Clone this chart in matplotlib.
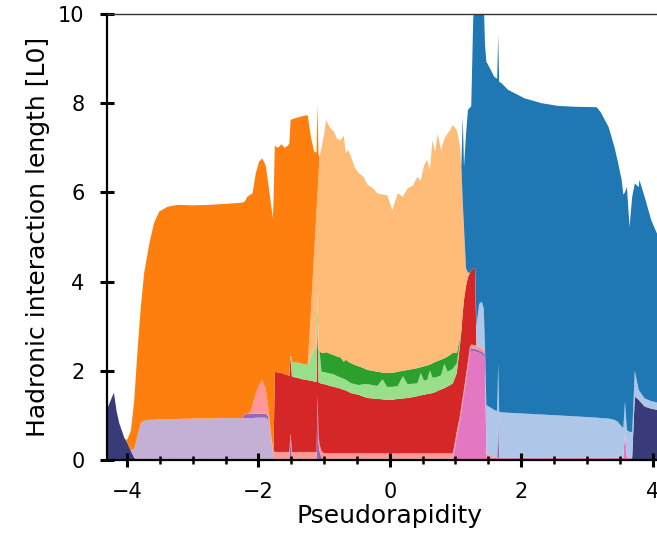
import matplotlib
matplotlib.use("Agg")
import matplotlib.pyplot as plt
from matplotlib.ticker import MultipleLocator

# pseudorapidity grid (segments A..F)
eta = [
    # A (22)
    -4.31, -4.26, -4.20, -4.16, -4.12, -4.04, -4.00, -3.97, -3.94, -3.89, -3.84,
    -3.79, -3.74, -3.66, -3.59, -3.51, -3.38, -3.23, -3.00, -2.75, -2.53, -2.25,
    # B (17)
    -2.21, -2.17, -2.12, -2.09, -2.04, -1.99, -1.94, -1.89, -1.85, -1.81, -1.78,
    -1.77, -1.75, -1.70, -1.65, -1.60, -1.55,
    # C (14)
    -1.53, -1.51, -1.49, -1.40, -1.30, -1.25, -1.20, -1.15, -1.115, -1.10, -1.085,
    -1.07, -1.04, -1.00,
    # D (35)
    -0.97, -0.91, -0.85, -0.80, -0.75, -0.70, -0.67, -0.63, -0.59, -0.53,
    -0.47, -0.40, -0.34, -0.26, -0.19, -0.11, -0.04, 0.04, 0.12, 0.20,
    0.27, 0.35, 0.42, 0.47, 0.52, 0.57, 0.61, 0.65, 0.69, 0.73,
    0.78, 0.83, 0.88, 0.92, 0.96,
    # E (16)
    1.02, 1.07, 1.09, 1.11, 1.13, 1.16, 1.19, 1.22, 1.24, 1.27, 1.30, 1.32, 1.36,
    1.40, 1.43, 1.45,
    # F (30)
    1.47, 1.54, 1.59, 1.635, 1.65, 1.665, 1.70, 1.80, 2.05, 2.31, 2.56, 2.81,
    3.15, 3.21, 3.33, 3.42, 3.47, 3.53, 3.555, 3.58, 3.61, 3.65, 3.69, 3.73,
    3.79, 3.80, 3.88, 3.98, 4.09, 4.31,
]

navy = [
    1.12, 1.30, 1.51, 1.10, 0.83, 0.49, 0.40, 0.30, 0.20, 0.05, 0, 0, 0, 0, 0, 0, 0, 0, 0, 0, 0, 0,
    0, 0, 0, 0, 0, 0, 0, 0, 0, 0, 0, 0, 0, 0, 0, 0, 0,
    0, 0, 0, 0, 0, 0, 0, 0, 0, 0, 0, 0, 0, 0,
    0, 0, 0, 0, 0, 0, 0, 0, 0, 0,
    0, 0, 0, 0, 0, 0, 0, 0, 0, 0,
    0, 0, 0, 0, 0, 0, 0, 0, 0, 0,
    0, 0, 0, 0, 0,
    0, 0, 0, 0, 0, 0, 0, 0, 0, 0, 0, 0, 0, 0, 0, 0,
    0, 0, 0, 0, 0, 0, 0, 0, 0, 0, 0, 0, 0, 0, 0, 0, 0, 0, 0, 0, 0, 0,
    0.05, 1.42, 1.35, 1.33, 1.20, 1.15, 1.12, 1.10,
]
light_purple = [
    0, 0, 0, 0, 0, 0, 0, 0, 0.02, 0.20, 0.55, 0.83, 0.88, 0.90, 0.90, 0.91, 0.92, 0.92, 0.93, 0.93, 0.94, 0.94,
    0.94, 0.94, 0.94, 0.94, 0.95, 0.95, 0.95, 0.95, 0.90, 0.45, 0.15, 0.08, 0, 0, 0, 0, 0,
    0, 0, 0, 0, 0, 0, 0, 0, 0, 0, 0, 0, 0, 0,
    0, 0, 0, 0, 0, 0, 0, 0, 0, 0,
    0, 0, 0, 0, 0, 0, 0, 0, 0, 0,
    0, 0, 0, 0, 0, 0, 0, 0, 0, 0,
    0, 0, 0, 0, 0,
    0, 0, 0, 0, 0, 0, 0, 0, 0, 0, 0, 0, 0, 0, 0, 0,
    0, 0, 0, 0, 0, 0, 0, 0, 0, 0, 0, 0, 0, 0, 0, 0, 0, 0, 0, 0, 0, 0, 0, 0, 0, 0, 0, 0, 0, 0,
]
pink = [
    0, 0, 0, 0, 0, 0, 0, 0, 0, 0, 0, 0, 0, 0, 0, 0, 0, 0, 0, 0, 0, 0,
    0, 0, 0, 0, 0, 0, 0, 0, 0, 0, 0, 0, 0, 0, 0, 0, 0,
    0, 0, 0, 0, 0, 0, 0, 0, 0, 0, 0, 0, 0, 0,
    0, 0, 0, 0, 0, 0, 0, 0, 0, 0,
    0, 0, 0, 0, 0, 0, 0, 0, 0, 0,
    0, 0, 0, 0, 0, 0, 0, 0, 0, 0,
    0, 0, 0, 0, 0,
    0.49, 0.88, 1.08, 1.27, 1.47, 1.76, 2.05, 2.40, 2.45, 2.44, 2.43, 2.42, 2.40, 2.37, 2.34, 2.30,
    0.05, 0.05, 0.05, 0.05, 0.05, 0.05, 0.05, 0.05, 0.05, 0.05, 0.05, 0.05, 0.05, 0.05, 0.05,
    0.05, 0.05, 0.05, 0.05, 0.60, 0.05, 0.05, 0, 0, 0, 0, 0, 0, 0, 0,
]
purple = [
    0, 0, 0, 0, 0, 0, 0, 0, 0, 0, 0, 0, 0, 0, 0, 0, 0, 0, 0, 0, 0, 0,
    0.08, 0.09, 0.09, 0.09, 0.09, 0.09, 0.09, 0.09, 0.08, 0.05, 0.03, 0.02, 0.03, 0.03, 0.03, 0.03, 0.03,
    0.03, 0.45, 0.03, 0.03, 0.03, 0.03, 0.03, 0.03, 0.03, 1.30, 0.40, 0.20, 0.05, 0.03,
    0.03, 0.03, 0.03, 0.03, 0.03, 0.03, 0.03, 0.03, 0.03, 0.03,
    0.03, 0.03, 0.03, 0.03, 0.03, 0.03, 0.03, 0.03, 0.03, 0.03,
    0.03, 0.03, 0.03, 0.03, 0.03, 0.03, 0.03, 0.03, 0.03, 0.03,
    0.03, 0.03, 0.03, 0.03, 0.03,
    0.03, 0.03, 0.03, 0.03, 0.03, 0.04, 0.05, 0.06, 0.06, 0.06, 0.06, 0.06, 0.06, 0.06, 0.06, 0.06,
    0.02, 0.01, 0, 0, 1.00, 0, 0, 0, 0, 0, 0, 0, 0, 0, 0, 0, 0, 0, 0, 0, 0, 0, 0, 0, 0, 0, 0, 0, 0, 0,
]
light_red = [
    0, 0, 0, 0, 0, 0, 0, 0, 0, 0, 0, 0, 0, 0, 0, 0, 0, 0, 0, 0, 0, 0,
    0, 0, 0.05, 0.20, 0.45, 0.65, 0.75, 0.55, 0.20, 0.10, 0.10, 0.12, 0.15, 0.15, 0.15, 0.15, 0.15,
    0.15, 0.15, 0.15, 0.15, 0.15, 0.15, 0.15, 0.15, 0.15, 0.15, 0.15, 0.15, 0.15, 0.12,
    0.12, 0.12, 0.12, 0.12, 0.12, 0.12, 0.12, 0.12, 0.12, 0.12,
    0.12, 0.12, 0.12, 0.12, 0.12, 0.12, 0.12, 0.12, 0.12, 0.12,
    0.12, 0.12, 0.12, 0.12, 0.12, 0.12, 0.12, 0.12, 0.12, 0.12,
    0.12, 0.12, 0.12, 0.12, 0.12,
    0.12, 0.10, 0.10, 0.10, 0.10, 0.10, 0.10, 0.08, 0.08, 0.08, 0.08, 0.08, 0.08, 0.08, 0.08, 0.08,
    0.08, 0.04, 0.03, 0, 0, 0, 0, 0, 0, 0, 0, 0, 0, 0, 0, 0, 0, 0, 0, 0, 0, 0, 0, 0, 0, 0, 0, 0, 0, 0,
]
red = [
    0, 0, 0, 0, 0, 0, 0, 0, 0, 0, 0, 0, 0, 0, 0, 0, 0, 0, 0, 0, 0, 0,
    0, 0, 0, 0, 0, 0, 0, 0, 0, 0, 0, 0, 1.80, 1.78, 1.77, 1.74, 1.72,
    1.70, 1.72, 1.69, 1.66, 1.62, 1.61, 1.60, 1.58, 1.57, 1.65, 1.19, 1.38, 1.51, 1.55,
    1.54, 1.51, 1.49, 1.47, 1.45, 1.42, 1.41, 1.38, 1.35, 1.33,
    1.31, 1.27, 1.24, 1.23, 1.22, 1.21, 1.20, 1.20, 1.22, 1.23,
    1.24, 1.26, 1.28, 1.30, 1.31, 1.33, 1.34, 1.35, 1.37, 1.40,
    1.43, 1.46, 1.50, 1.53, 1.57,
    1.31, 1.59, 1.69, 1.90, 2.00, 2.00, 1.90, 1.66, 1.66, 1.72, 1.73, 0, 0, 0, 0, 0,
    0, 0, 0, 0, 0, 0, 0, 0, 0, 0, 0, 0, 0, 0, 0, 0, 0, 0, 0, 0, 0, 0, 0, 0, 0, 0, 0, 0, 0, 0,
]
light_green = [
    0, 0, 0, 0, 0, 0, 0, 0, 0, 0, 0, 0, 0, 0, 0, 0, 0, 0, 0, 0, 0, 0,
    0, 0, 0, 0, 0, 0, 0, 0, 0, 0, 0, 0, 0, 0, 0, 0, 0,
    0, 0.08, 0.33, 0.34, 0.35, 0.34, 0.54, 0.74, 0.80, 0.67, 0.76, 0.72, 0.27, 0.27,
    0.27, 0.28, 0.28, 0.26, 0.25, 0.25, 0.24, 0.23, 0.22, 0.22,
    0.22, 0.28, 0.31, 0.30, 0.29, 0.45, 0.29, 0.29, 0.29, 0.50,
    0.31, 0.30, 0.29, 0.50, 0.32, 0.32, 0.52, 0.35, 0.33, 0.32,
    0.32, 0.55, 0.33, 0.33, 0.33,
    0.22, 0.10, 0, 0, 0, 0, 0, 0, 0, 0, 0, 0, 0, 0, 0, 0,
    0, 0, 0, 0, 0, 0, 0, 0, 0, 0, 0, 0, 0, 0, 0, 0, 0, 0, 0, 0, 0, 0, 0, 0, 0, 0, 0, 0, 0, 0,
]
green = [
    0, 0, 0, 0, 0, 0, 0, 0, 0, 0, 0, 0, 0, 0, 0, 0, 0, 0, 0, 0, 0, 0,
    0, 0, 0, 0, 0, 0, 0, 0, 0, 0, 0, 0, 0, 0, 0, 0, 0,
    0, 0, 0, 0, 0, 0, 0, 0, 0, 0, 0, 0, 0.42, 0.43,
    0.46, 0.44, 0.43, 0.44, 0.45, 0.38, 0.45, 0.44, 0.45, 0.43,
    0.42, 0.36, 0.32, 0.32, 0.32, 0.15, 0.31, 0.31, 0.32, 0.12,
    0.32, 0.33, 0.34, 0.13, 0.32, 0.32, 0.13, 0.32, 0.35, 0.35,
    0.35, 0.12, 0.34, 0.35, 0.35,
    0.23, 0.05, 0, 0, 0, 0, 0, 0, 0, 0, 0, 0, 0, 0, 0, 0,
    0, 0, 0, 0, 0, 0, 0, 0, 0, 0, 0, 0, 0, 0, 0, 0, 0, 0, 0, 0, 0, 0, 0, 0, 0, 0, 0, 0, 0, 0,
]
light_orange = [
    0, 0, 0, 0, 0, 0, 0, 0, 0, 0, 0, 0, 0, 0, 0, 0, 0, 0, 0, 0, 0, 0,
    0, 0, 0, 0, 0, 0, 0, 0, 0, 0, 0, 0, 0, 0, 0, 0, 0,
    0, 0, 0, 0, 0, 0, 1.04, 2.20, 3.05, 2.23, 3.90, 4.35, 4.60, 4.90,
    5.20, 5.07, 5.01, 4.88, 4.87, 5.07, 4.63, 4.75, 4.63, 4.42,
    4.33, 4.29, 4.15, 4.10, 4.00, 3.99, 3.99, 3.65, 4.00, 3.90,
    4.07, 4.11, 4.29, 4.17, 4.50, 4.61, 4.36, 5.00, 4.70, 5.10,
    4.70, 4.92, 5.00, 5.04, 5.11,
    5.00, 4.27, 3.68, 2.50, 1.60, 0.40, 0.10, 0, 0, 0, 0, 0, 0, 0, 0, 0,
    0, 0, 0, 0, 0, 0, 0, 0, 0, 0, 0, 0, 0, 0, 0, 0, 0, 0, 0, 0, 0, 0, 0, 0, 0, 0, 0, 0, 0, 0,
]
orange = [
    0, 0, 0, 0, 0, 0, 0.05, 0.25, 0.45, 1.10, 1.92, 2.61, 3.31, 3.96, 4.41, 4.66, 4.76, 4.80, 4.78, 4.79, 4.80, 4.83,
    4.77, 4.87, 4.87, 4.75, 4.94, 5.00, 4.97, 5.02, 5.02, 5.15, 5.14, 5.58, 5.06, 5.04, 5.13, 5.08, 5.15,
    5.22, 5.22, 5.44, 5.50, 5.57, 5.60, 3.88, 2.20, 1.30, 1.98, 0.45, 0, 0, 0,
    0, 0, 0, 0, 0, 0, 0, 0, 0, 0,
    0, 0, 0, 0, 0, 0, 0, 0, 0, 0,
    0, 0, 0, 0, 0, 0, 0, 0, 0, 0,
    0, 0, 0, 0, 0,
    0, 0, 0, 0, 0, 0, 0, 0, 0, 0, 0, 0, 0, 0, 0, 0,
    0, 0, 0, 0, 0, 0, 0, 0, 0, 0, 0, 0, 0, 0, 0, 0, 0, 0, 0, 0, 0, 0, 0, 0, 0, 0, 0, 0, 0, 0,
]
light_blue = [
    0, 0, 0, 0, 0, 0, 0, 0, 0, 0, 0, 0, 0, 0, 0, 0, 0, 0, 0, 0, 0, 0,
    0, 0, 0, 0, 0, 0, 0, 0, 0, 0, 0, 0, 0, 0, 0, 0, 0,
    0, 0, 0, 0, 0, 0, 0, 0, 0, 0, 0, 0, 0, 0,
    0, 0, 0, 0, 0, 0, 0, 0, 0, 0,
    0, 0, 0, 0, 0, 0, 0, 0, 0, 0,
    0, 0, 0, 0, 0, 0, 0, 0, 0, 0,
    0, 0, 0, 0, 0,
    0, 0, 0, 0, 0, 0, 0, 0, 0, 0, 0, 0.44, 0.96, 1.04, 0.92, 0.06,
    1.08, 1.07, 1.04, 1.05, 1.12, 1.03, 1.02, 1.01, 0.99, 0.97, 0.95, 0.93, 0.90, 0.89, 0.88,
    0.85, 0.81, 0.70, 0.67, 0.71, 0.62, 0.58, 0.58, 0.58, 0.22, 0.22, 0.18, 0.17, 0.16, 0.15,
]
blue = [
    0, 0, 0, 0, 0, 0, 0, 0, 0, 0, 0, 0, 0, 0, 0, 0, 0, 0, 0, 0, 0, 0,
    0, 0, 0, 0, 0, 0, 0, 0, 0, 0, 0, 0, 0, 0, 0, 0, 0,
    0, 0, 0, 0, 0, 0, 0, 0, 0, 0, 0, 0, 0, 0,
    0, 0, 0, 0, 0, 0, 0, 0, 0, 0,
    0, 0, 0, 0, 0, 0, 0, 0, 0, 0,
    0, 0, 0, 0, 0, 0, 0, 0, 0, 0,
    0, 0, 0, 0, 0,
    0, 0, 0, 1.90, 1.37, 3.00, 3.65, 3.70, 3.68, 5.60, 6.00, 7.30, 6.80, 6.75, 6.90, 6.80,
    7.70, 7.57, 7.47, 7.45, 7.36, 7.40, 7.38, 7.24, 7.07, 6.98, 6.94, 6.94, 6.96, 6.86, 6.54,
    6.12, 5.84, 5.53, 5.23, 4.69, 5.45, 4.59, 5.27, 4.20, 4.55, 4.73, 4.52, 4.06, 3.72, 3.20,
]

layers = [navy, light_purple, pink, purple, light_red, red, light_green, green,
          light_orange, orange, light_blue, blue]
colors = ["#393b79", "#c5b0d5", "#e377c2", "#9467bd", "#ff9896", "#d62728",
          "#98df8a", "#2ca02c", "#ffbb78", "#ff7f0e", "#aec7e8", "#1f77b4"]
for lay in layers:
    assert len(lay) == len(eta), (len(lay), len(eta))

fig = plt.figure(figsize=(6.57, 5.42), dpi=100)
ax = fig.add_axes([0.1624, 0.1513, 0.8618, 0.8229])
ax.stackplot(eta, *layers, colors=colors, linewidth=0)

ax.set_xlim(-4.31, 4.31)
ax.set_ylim(0, 10)
ax.xaxis.set_major_locator(MultipleLocator(2))
ax.xaxis.set_minor_locator(MultipleLocator(0.5))
ax.yaxis.set_major_locator(MultipleLocator(2))

ax.tick_params(which="major", direction="inout", length=10, width=2.2,
               labelsize=15, pad=11, colors="black")
ax.tick_params(which="minor", direction="inout", length=6, width=1.8)
ax.tick_params(axis="y", which="minor", left=False)
ax.tick_params(top=False, right=False)

for s in ["left", "bottom"]:
    ax.spines[s].set_linewidth(1.6)
ax.spines["top"].set_linewidth(1.0)
ax.spines["top"].set_color("#333333")
ax.spines["right"].set_visible(False)

ax.set_xlabel("Pseudorapidity", fontsize=18, labelpad=1)
ax.set_ylabel("Hadronic interaction length [L0]", fontsize=18, labelpad=6)

fig.savefig("out.png", dpi=100)
